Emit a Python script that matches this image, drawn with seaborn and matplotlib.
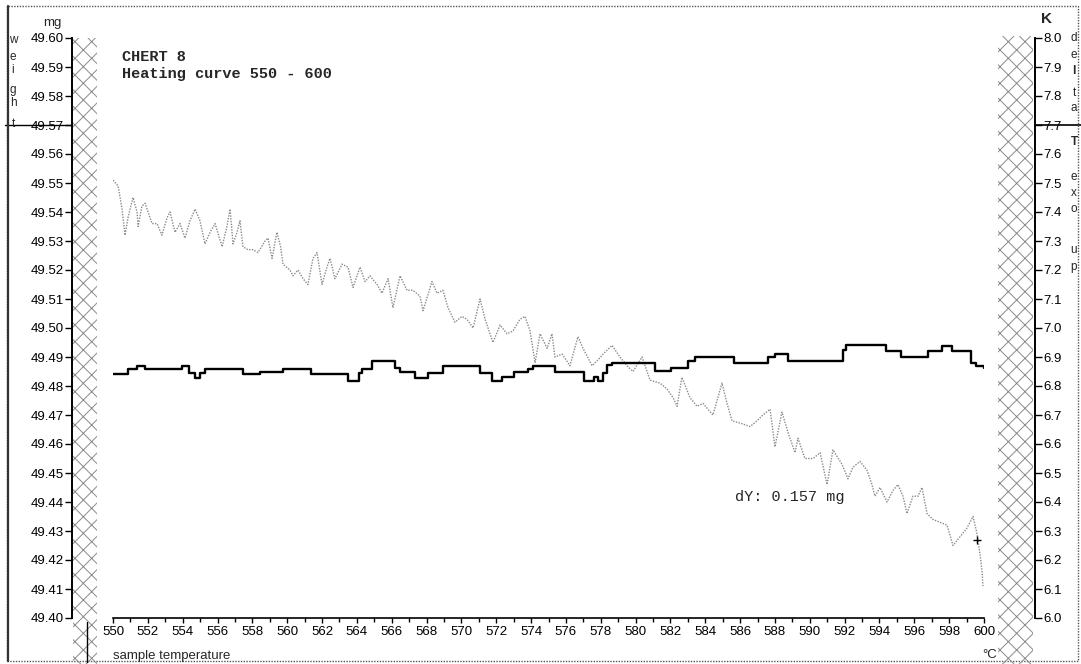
import matplotlib
matplotlib.use("Agg")
import matplotlib.pyplot as plt
import seaborn as sns
import pandas as pd
from matplotlib.patches import Rectangle
from matplotlib.lines import Line2D
from matplotlib.transforms import blended_transform_factory
from matplotlib.ticker import MultipleLocator

# ---------------- data ----------------
weight_temp = [550.00, 550.29, 550.52, 550.69, 550.86, 551.15, 551.38, 551.44, 551.66, 551.84,
               552.01, 552.24, 552.53, 552.81, 553.10, 553.27, 553.56, 553.85, 554.13, 554.42,
               554.71, 554.99, 555.28, 555.57, 555.86, 556.26, 556.54, 556.72, 556.89, 557.12,
               557.29, 557.46, 557.75, 558.04, 558.32, 558.73, 558.90, 559.13, 559.41, 559.62,
               559.76, 560.16, 560.33, 560.62, 560.91, 561.19, 561.48, 561.71, 562.00, 562.28,
               562.46, 562.74, 563.15, 563.49, 563.78, 564.18, 564.47, 564.75, 565.16, 565.44,
               565.79, 566.07, 566.48, 566.88, 567.22, 567.62, 567.80, 568.31, 568.60, 568.94,
               569.23, 569.63, 570.03, 570.32, 570.67, 571.07, 571.36, 571.81, 572.22, 572.62,
               572.96, 573.36, 573.65, 573.94, 574.23, 574.51, 574.92, 575.20, 575.37, 575.78,
               576.23, 576.69, 576.98, 577.50, 577.84, 578.13, 578.65, 579.10, 579.51, 579.85,
               580.37, 580.83, 581.40, 581.80, 582.15, 582.38, 582.66, 583.12, 583.53, 583.87,
               584.44, 584.96, 585.25, 585.53, 586.11, 586.57, 586.97, 587.31, 587.72, 588.00,
               588.40, 588.75, 589.15, 589.32, 589.72, 590.19, 590.59, 590.99, 591.33, 591.85,
               592.19, 592.48, 592.88, 593.28, 593.57, 593.74, 594.03, 594.43, 594.78, 595.06,
               595.35, 595.58, 595.92, 596.21, 596.44, 596.73, 597.07, 597.47, 597.88, 598.22,
               598.62, 599.02, 599.37, 599.60, 599.77, 599.89, 599.94]
weight_mg = [49.551, 49.549, 49.541, 49.532, 49.538, 49.545, 49.540, 49.535, 49.542, 49.543,
             49.540, 49.536, 49.536, 49.532, 49.538, 49.540, 49.533, 49.536, 49.531, 49.537,
             49.541, 49.537, 49.529, 49.533, 49.536, 49.528, 49.535, 49.541, 49.529, 49.533,
             49.537, 49.528, 49.527, 49.527, 49.526, 49.530, 49.531, 49.524, 49.533, 49.528,
             49.522, 49.520, 49.518, 49.520, 49.517, 49.515, 49.524, 49.526, 49.515, 49.521,
             49.524, 49.517, 49.522, 49.521, 49.514, 49.521, 49.516, 49.518, 49.515, 49.512,
             49.517, 49.507, 49.518, 49.513, 49.513, 49.511, 49.506, 49.516, 49.512, 49.513,
             49.507, 49.502, 49.504, 49.503, 49.500, 49.510, 49.503, 49.495, 49.501, 49.498,
             49.499, 49.503, 49.504, 49.499, 49.488, 49.498, 49.493, 49.498, 49.490, 49.491,
             49.487, 49.497, 49.493, 49.487, 49.489, 49.491, 49.494, 49.490, 49.487, 49.485,
             49.490, 49.482, 49.481, 49.479, 49.476, 49.473, 49.483, 49.476, 49.473, 49.474,
             49.470, 49.481, 49.474, 49.468, 49.467, 49.466, 49.468, 49.470, 49.472, 49.459,
             49.471, 49.464, 49.457, 49.462, 49.455, 49.455, 49.457, 49.446, 49.458, 49.453,
             49.448, 49.452, 49.454, 49.451, 49.446, 49.442, 49.445, 49.440, 49.444, 49.446,
             49.442, 49.436, 49.442, 49.442, 49.445, 49.436, 49.434, 49.433, 49.432, 49.425,
             49.428, 49.431, 49.435, 49.429, 49.422, 49.416, 49.411]

dta_temp = [550.0, 550.86, 551.38, 551.84, 553.96, 554.36, 554.71, 555.0, 555.28, 557.46,
            558.44, 559.76, 561.37, 563.49, 564.12, 564.29, 564.87, 566.19, 566.47, 567.34,
            568.08, 568.94, 571.07, 571.76, 572.33, 573.02, 573.82, 574.11, 575.37, 577.04,
            577.61, 577.84, 578.13, 578.36, 578.65, 581.11, 582.03, 583.0, 583.41, 585.65,
            587.6, 588.0, 588.75, 591.91, 592.08, 594.37, 595.24, 596.79, 597.59, 598.16,
            599.25, 599.54, 600.0]
dta_k = [6.842, 6.860, 6.869, 6.859, 6.869, 6.845, 6.828, 6.845, 6.859, 6.842,
         6.849, 6.859, 6.842, 6.818, 6.845, 6.859, 6.886, 6.862, 6.849, 6.828,
         6.845, 6.869, 6.845, 6.818, 6.831, 6.849, 6.860, 6.869, 6.849, 6.818,
         6.831, 6.818, 6.845, 6.873, 6.879, 6.852, 6.862, 6.886, 6.900, 6.879,
         6.900, 6.910, 6.886, 6.925, 6.941, 6.921, 6.900, 6.921, 6.938, 6.921,
         6.879, 6.869, 6.862]

x_tick_labels = ["550", "552", "554", "556", "558", "560", "562", "564", "566", "568",
                 "570", "572", "574", "576", "578", "580", "582", "584", "586", "588",
                 "590", "592", "594", "596", "598", "600"]
left_tick_labels = ["49.40", "49.41", "49.42", "49.43", "49.44", "49.45", "49.46", "49.47",
                    "49.48", "49.49", "49.50", "49.51", "49.52", "49.53", "49.54", "49.55",
                    "49.56", "49.57", "49.58", "49.59", "49.60"]
right_tick_labels = ["6.0", "6.1", "6.2", "6.3", "6.4", "6.5", "6.6", "6.7", "6.8", "6.9",
                     "7.0", "7.1", "7.2", "7.3", "7.4", "7.5", "7.6", "7.7", "7.8", "7.9", "8.0"]

cursor_temp = 599.6
cursor_weight = 49.427
left_marker_weight = 49.57
right_marker_k = 7.7

left_letters = ["w", "e", "i", "g", "h", "t"]
left_letter_pos = [49.5992, 49.5935, 49.589, 49.582, 49.5775, 49.5705]
right_letters = ["d", "e", "l", "t", "a", "T", "e", "x", "o", "u", "p"]
right_letter_pos = [8.0, 7.94, 7.885, 7.81, 7.76, 7.64, 7.52, 7.465, 7.41, 7.27, 7.21]

# ---------------- style ----------------
sns.set_style("white")
plt.rcParams["font.family"] = ["Liberation Sans", "DejaVu Sans"]
plt.rcParams["hatch.linewidth"] = 0.7

W, H = 1081, 664
fig = plt.figure(figsize=(W / 100, H / 100), dpi=100)
fig.patch.set_facecolor("white")

def fx(px):
    return px / W

def fy(py):
    return 1 - py / H

ax = fig.add_axes([fx(113), fy(618), (984 - 113) / W, (618 - 38) / H])
ax.set_xlim(550, 600)
ax.set_ylim(49.40, 49.60)

weight_df = pd.DataFrame({"temp": weight_temp, "mg": weight_mg})
dta_df = pd.DataFrame({"temp": dta_temp, "k": dta_k})

sns.lineplot(data=weight_df, x="temp", y="mg", ax=ax, sort=False, estimator=None,
             color="#8a8a8a", linewidth=1.0, linestyle=(0, (1, 1)), zorder=2)
ax.plot([cursor_temp], [cursor_weight], marker="+", color="black", markersize=6,
        markeredgewidth=1.0, linestyle="none", zorder=4)

ax2 = ax.twinx()
ax2.set_ylim(6.0, 8.0)
sns.lineplot(data=dta_df, x="temp", y="k", ax=ax2, sort=False, estimator=None,
             color="black", linewidth=1.7, drawstyle="steps-post", zorder=3)
ax2.set_xlim(550, 600)

# spines and ticks
for s in ["top", "right"]:
    ax.spines[s].set_visible(False)
for s in ["top", "left", "bottom"]:
    ax2.spines[s].set_visible(False)

ax.spines["left"].set_position(("outward", 41 * 0.72))
ax.spines["left"].set_bounds(49.40, 49.60)
ax.spines["left"].set_linewidth(1.4)
ax.spines["left"].set_color("black")
ax.spines["bottom"].set_bounds(550, 600)
ax.spines["bottom"].set_linewidth(1.2)
ax.spines["bottom"].set_color("black")
ax2.spines["right"].set_position(("outward", 51 * 0.72))
ax2.spines["right"].set_bounds(6.0, 8.0)
ax2.spines["right"].set_linewidth(1.4)
ax2.spines["right"].set_color("black")

ax.set_yticks([float(v) for v in left_tick_labels])
ax.set_yticklabels(left_tick_labels)
ax.set_xticks([float(v) for v in x_tick_labels])
ax.set_xticklabels(x_tick_labels)
ax.xaxis.set_minor_locator(MultipleLocator(1))
ax2.set_yticks([float(v) for v in right_tick_labels])
ax2.set_yticklabels(right_tick_labels)

ax.tick_params(axis="y", which="major", direction="out", length=5, width=1, pad=1,
               labelsize=9.5, colors="black", left=True)
ax.tick_params(axis="x", which="major", direction="out", length=3.5, width=1, pad=2,
               labelsize=9.5, colors="black", bottom=True)
ax.tick_params(axis="x", which="minor", direction="out", length=3, width=1, bottom=True,
               colors="black")
ax2.tick_params(axis="y", which="major", direction="out", length=5, width=1, pad=1,
                labelsize=9.5, colors="black", right=True)
ax.set_xlabel("")
ax.set_ylabel("")
ax2.set_ylabel("")
ax.grid(False)
ax2.grid(False)

# hatched bands
fig.patches.append(Rectangle((fx(73), fy(664)), (97 - 73) / W, (664 - 38) / H,
                             transform=fig.transFigure, fill=False, hatch="xx",
                             edgecolor="#8a8a8a", linewidth=0, zorder=0.5))
fig.patches.append(Rectangle((fx(998), fy(664)), (1033 - 998) / W, (664 - 36) / H,
                             transform=fig.transFigure, fill=False, hatch="xx",
                             edgecolor="#8a8a8a", linewidth=0, zorder=0.5))
fig.lines.append(Line2D([fx(87), fx(87)], [fy(622), fy(662)], transform=fig.transFigure,
                        color="black", linewidth=1.0))

# border
fig.patches.append(Rectangle((fx(7), fy(661)), (1078 - 7) / W, (661 - 6) / H,
                             transform=fig.transFigure, fill=False, linestyle=(0, (1, 1)),
                             edgecolor="#555555", linewidth=1.0, zorder=0.4))
fig.lines.append(Line2D([fx(8), fx(8)], [fy(6), fy(661)], transform=fig.transFigure,
                        color="#333333", linewidth=1.6))

# cursor marker lines outside the axes
tl = blended_transform_factory(fig.transFigure, ax.transData)
ax.add_line(Line2D([fx(5), fx(72)], [left_marker_weight, left_marker_weight], transform=tl,
                   color="black", linewidth=1.0, clip_on=False))
tr = blended_transform_factory(fig.transFigure, ax2.transData)
ax2.add_line(Line2D([fx(1035), fx(1081)], [right_marker_k, right_marker_k], transform=tr,
                    color="black", linewidth=1.2, clip_on=False))

for ch, pos in zip(left_letters, left_letter_pos):
    ax.text(fx(13), pos, ch, transform=tl, ha="center", va="center", fontsize=8.5)
for ch, pos in zip(right_letters, right_letter_pos):
    bold = ch in ("l", "T")
    ax2.text(fx(1074), pos, ch, transform=tr, ha="center", va="center", fontsize=8.5,
             fontweight="bold" if bold else "normal")

# texts
mono = ["Liberation Mono", "DejaVu Sans Mono"]
fig.text(fx(122), fy(57), "CHERT 8", family=mono, fontsize=11, ha="left", va="center",
         fontweight="bold")
fig.text(fx(122), fy(74), "Heating curve 550 - 600", family=mono, fontsize=11,
         ha="left", va="center", fontweight="bold")
fig.text(fx(735), fy(497), "dY: 0.157 mg", family=mono, fontsize=11, ha="left", va="center")
fig.text(fx(52), fy(23), "mg", fontsize=9.5, ha="center", va="center")
fig.text(fx(1046), fy(19), "K", fontsize=11, fontweight="bold", ha="center", va="center")
fig.text(fx(113), fy(656), "sample temperature", fontsize=9.5, ha="left", va="center")
fig.text(fx(997), fy(655), "°C", fontsize=9.5, ha="right", va="center")

fig.savefig("out.png", dpi=100, facecolor="white")
